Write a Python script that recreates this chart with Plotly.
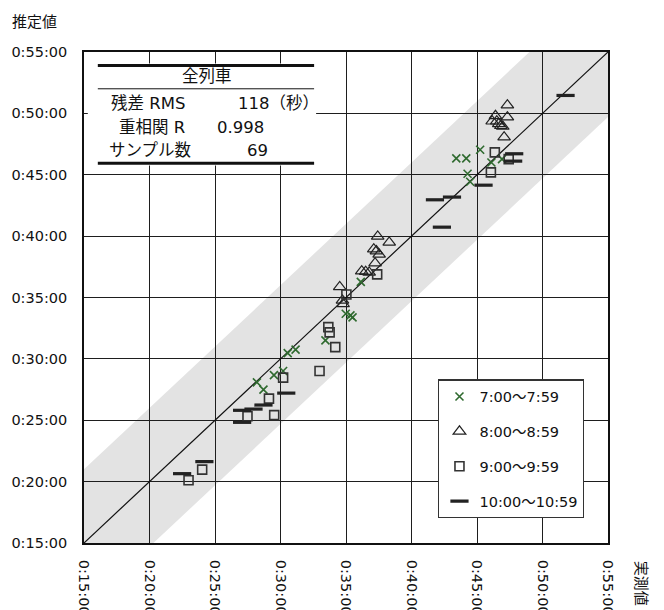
import plotly.graph_objects as go

# ---- data (minutes) ----
tick_vals = [15, 20, 25, 30, 35, 40, 45, 50, 55]
tick_labels = ["0:15:00", "0:20:00", "0:25:00", "0:30:00", "0:35:00",
               "0:40:00", "0:45:00", "0:50:00", "0:55:00"]

x7 = [28.2, 28.7, 29.5, 30.2, 30.55, 31.15, 33.43, 34.98, 35.34, 35.5, 36.13,
      43.42, 44.18, 45.24, 46.10, 46.91, 44.28, 44.48]
y7 = [28.09, 27.49, 28.68, 29.01, 30.47, 30.75, 31.51, 33.68, 33.54, 33.38, 36.27,
      46.33, 46.33, 47.04, 46.00, 46.27, 45.08, 44.43]

x8 = [34.52, 34.73, 34.78, 36.2, 36.5, 36.77, 37.22, 37.12, 37.32, 37.53, 37.42, 38.3,
      47.32, 47.32, 46.41, 46.16, 46.51, 46.66, 46.82, 46.97, 47.07]
y8 = [35.86, 34.76, 34.48, 37.15, 37.10, 37.04, 37.80, 38.94, 38.78, 38.51, 39.98, 39.49,
      50.67, 49.69, 49.80, 49.36, 49.36, 49.15, 48.99, 48.93, 48.06]

x9 = [22.98, 24.02, 27.48, 29.52, 29.12, 30.2, 32.98, 33.65, 33.75, 34.18, 35.03, 37.38,
      46.36, 47.42, 46.06]
y9 = [20.11, 20.98, 25.32, 25.42, 26.76, 28.47, 29.01, 32.59, 32.16, 30.96, 35.25, 36.88,
      46.82, 46.27, 45.19]

x10 = [22.49, 24.19, 27.07, 27.07, 27.94, 28.7, 30.44, 41.79, 43.09, 42.32, 45.5,
       47.84, 47.76, 51.76]
y10 = [20.65, 21.63, 25.81, 24.83, 25.91, 26.24, 27.21, 42.96, 43.18, 40.73, 44.15,
       46.71, 46.11, 51.46]

band_upper = 6.0   # minutes above y = x
band_lower = 5.3   # minutes below y = x
axis_min, axis_max = 15, 55

table_title = "全列車"
table_rows = [("残差 RMS", "118（秒）"), ("重相関 R", "0.998"), ("サンプル数", "69")]

series_names = ["7:00～7:59", "8:00～8:59", "9:00～9:59", "10:00～10:59"]

# ---- figure ----
FONT = "DejaVu Sans, Noto Sans CJK JP, sans-serif"
fig = go.Figure()

lo, hi = axis_min, axis_max
U, L = band_upper, band_lower
band_path = (f"M {lo},{lo} L {lo+L},{lo} L {hi},{hi-L} L {hi},{hi} "
             f"L {hi-U},{hi} L {lo},{lo+U} Z")
fig.add_shape(type="path", path=band_path, xref="x", yref="y",
              fillcolor="#e3e3e3", line=dict(width=0), layer="below")

fig.add_trace(go.Scatter(x=[lo, hi], y=[lo, hi], mode="lines",
                         line=dict(color="#111", width=1.2),
                         showlegend=False, hoverinfo="skip"))

fig.add_trace(go.Scatter(x=x7, y=y7, mode="markers", name=series_names[0],
                         legendgroup="a",
                         marker=dict(symbol="x-thin", size=8, color="#2f6a2f",
                                     line=dict(width=1.6, color="#2f6a2f"))))
fig.add_trace(go.Scatter(x=x8, y=y8, mode="markers", name=series_names[1],
                         legendgroup="b",
                         marker=dict(symbol="triangle-up-open", size=11, color="#222",
                                     line=dict(width=1.2, color="#222"))))
fig.add_trace(go.Scatter(x=x9, y=y9, mode="markers", name=series_names[2],
                         legendgroup="c",
                         marker=dict(symbol="square-open", size=9, color="#333",
                                     line=dict(width=1.6, color="#333"))))
fig.add_trace(go.Scatter(x=x10, y=y10, mode="markers", name=series_names[3],
                         legendgroup="d",
                         marker=dict(symbol="line-ew", size=13, color="#222",
                                     line=dict(width=3.2, color="#222"))))

axis_common = dict(range=[lo, hi], tickvals=tick_vals, ticktext=tick_labels,
                   showgrid=True, gridcolor="#1e1e1e", gridwidth=1.3,
                   showline=True, mirror=True, linecolor="#111", linewidth=1.6,
                   zeroline=False, ticks="", automargin=False,
                   tickfont=dict(family=FONT, size=14.5, color="#111"))

fig.update_xaxes(**axis_common, tickangle=90, ticklabelstandoff=12)
fig.update_yaxes(**axis_common, ticklabelstandoff=12)

# ---- table (paper coords) ----
def px2x(px):
    return (px - 84.2) / 523.3

def py2y(py):
    return (542.7 - py) / 491.2

fig.add_shape(type="rect", xref="paper", yref="paper",
              x0=px2x(88), x1=px2x(316), y0=py2y(165), y1=py2y(63),
              fillcolor="white", line=dict(width=0), layer="above")
for py, w in [(65, 3), (88.3, 1), (162.7, 3)]:
    fig.add_shape(type="line", xref="paper", yref="paper",
                  x0=px2x(98), x1=px2x(314), y0=py2y(py), y1=py2y(py),
                  line=dict(color="#111", width=w), layer="above")

annos = []
annos.append(dict(text=table_title, x=px2x(207), y=py2y(76), xanchor="center",
                  yanchor="middle"))
row_y = [102.7, 127.3, 150]
lab_x = [148, 152, 150]
val_pos = [(236, "left"), (240, "center"), (257, "center")]
for (lab, val), ry, lx, (vx, va) in zip(table_rows, row_y, lab_x, val_pos):
    annos.append(dict(text=lab, x=px2x(lx), y=py2y(ry), xanchor="center", yanchor="middle"))
    annos.append(dict(text=val, x=px2x(vx), y=py2y(ry), xanchor=va, yanchor="middle"))
for a in annos:
    a.update(xref="paper", yref="paper", showarrow=False,
             font=dict(family=FONT, size=16.5, color="#111"))
    fig.add_annotation(**a)

fig.add_annotation(text="推定値", xref="paper", yref="paper", x=px2x(10), y=py2y(21),
                   xanchor="left", yanchor="middle", showarrow=False,
                   font=dict(family=FONT, size=15, color="#111"))
fig.add_annotation(text="実測値", xref="paper", yref="paper", x=px2x(640), y=py2y(583),
                   xanchor="center", yanchor="middle", showarrow=False, textangle=90,
                   font=dict(family=FONT, size=15, color="#111"))

fig.update_layout(
    width=664, height=610, autosize=False,
    margin=dict(l=76, r=64, t=44, b=75, pad=0),
    paper_bgcolor="white", plot_bgcolor="white",
    font=dict(family=FONT, size=14.5, color="#111"),
    legend=dict(x=px2x(438), y=py2y(379), xanchor="left", yanchor="top",
                bgcolor="white", bordercolor="#333", borderwidth=1.2,
                tracegroupgap=13, itemwidth=30,
                font=dict(family=FONT, size=14.5, color="#111")),
)

fig.write_html("out.html")
